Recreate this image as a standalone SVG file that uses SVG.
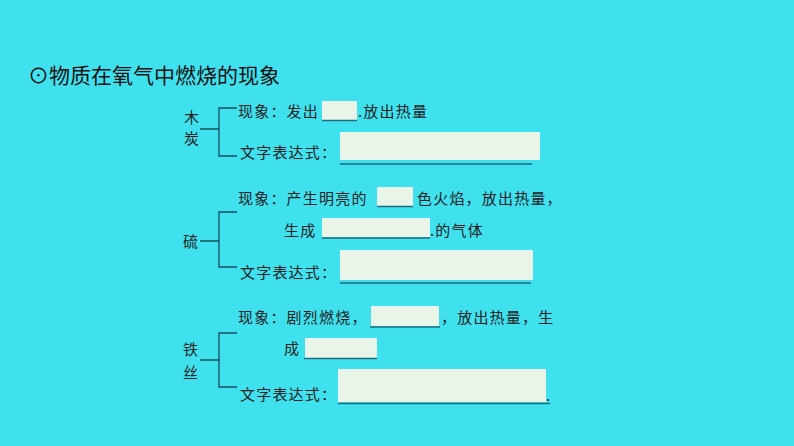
<svg xmlns="http://www.w3.org/2000/svg" width="794" height="446" viewBox="0 0 794 446">
<style>
.t{font-family:"Noto Sans CJK SC","Noto Sans",sans-serif;font-size:15px;fill:#222;letter-spacing:1.2px}
.title{font-family:"Noto Sans CJK SC","Noto Sans",sans-serif;font-size:21px;fill:#111}
.box{fill:#eaf5ea}
.ul{stroke:#1d6b7c;stroke-width:1.5;fill:none}
.br{stroke:#1d4f5a;stroke-width:1.3;fill:none}
</style>
<rect width="794" height="446" fill="#3fe1ef"/>
<text class="title" x="28" y="83">⊙物质在氧气中燃烧的现象</text>

<g id="connectors">
<path class="br" d="M200 129H219M237 108H219V156H237"/>
<path class="br" d="M200 241H219M237 212H219V267H237"/>
<path class="br" d="M200 360H219M237 333H219V387H237"/>
</g>

<g id="charcoal">
<text class="t" x="184" y="123">木</text>
<text class="t" x="184" y="144">炭</text>
<text class="t" x="238" y="117">现象：发出</text>
<rect class="box" x="322" y="101" width="35" height="19"/>
<line class="ul" x1="322" y1="120.5" x2="357" y2="120.5"/>
<text class="t" x="358" y="117">.放出热量</text>
<text class="t" x="240" y="158">文字表达式：</text>
<rect class="box" x="340" y="132" width="200" height="28"/>
<line class="ul" x1="340" y1="164" x2="532" y2="164"/>
</g>

<g id="sulfur">
<text class="t" x="238" y="204">现象：产生明亮的</text>
<rect class="box" x="377" y="187" width="36" height="19"/>
<line class="ul" x1="377" y1="206.5" x2="413" y2="206.5"/>
<text class="t" x="417" y="204">色火焰，放出热量，</text>
<text class="t" x="284" y="236">生成</text>
<rect class="box" x="322" y="218" width="108" height="19"/>
<line class="ul" x1="322" y1="238" x2="430" y2="238"/>
<text class="t" x="430" y="236">.的气体</text>
<text class="t" x="183" y="247">硫</text>
<text class="t" x="240" y="278">文字表达式：</text>
<rect class="box" x="340" y="250" width="193" height="30"/>
<line class="ul" x1="340" y1="283" x2="531" y2="283"/>
</g>

<g id="iron">
<text class="t" x="238" y="323">现象：剧烈燃烧，</text>
<rect class="box" x="371" y="306" width="68" height="20"/>
<line class="ul" x1="370" y1="327" x2="440" y2="327"/>
<text class="t" x="441" y="323">，放出热量，生</text>
<text class="t" x="284" y="354">成</text>
<rect class="box" x="305" y="338" width="72" height="20"/>
<line class="ul" x1="304" y1="358.5" x2="377" y2="358.5"/>
<text class="t" x="183" y="355">铁</text>
<text class="t" x="183" y="378">丝</text>
<text class="t" x="240" y="400">文字表达式：</text>
<rect class="box" x="338" y="369" width="208" height="33"/>
<line class="ul" x1="338" y1="403.5" x2="550" y2="403.5"/>
<text class="t" x="546" y="401">.</text>
</g>
</svg>
